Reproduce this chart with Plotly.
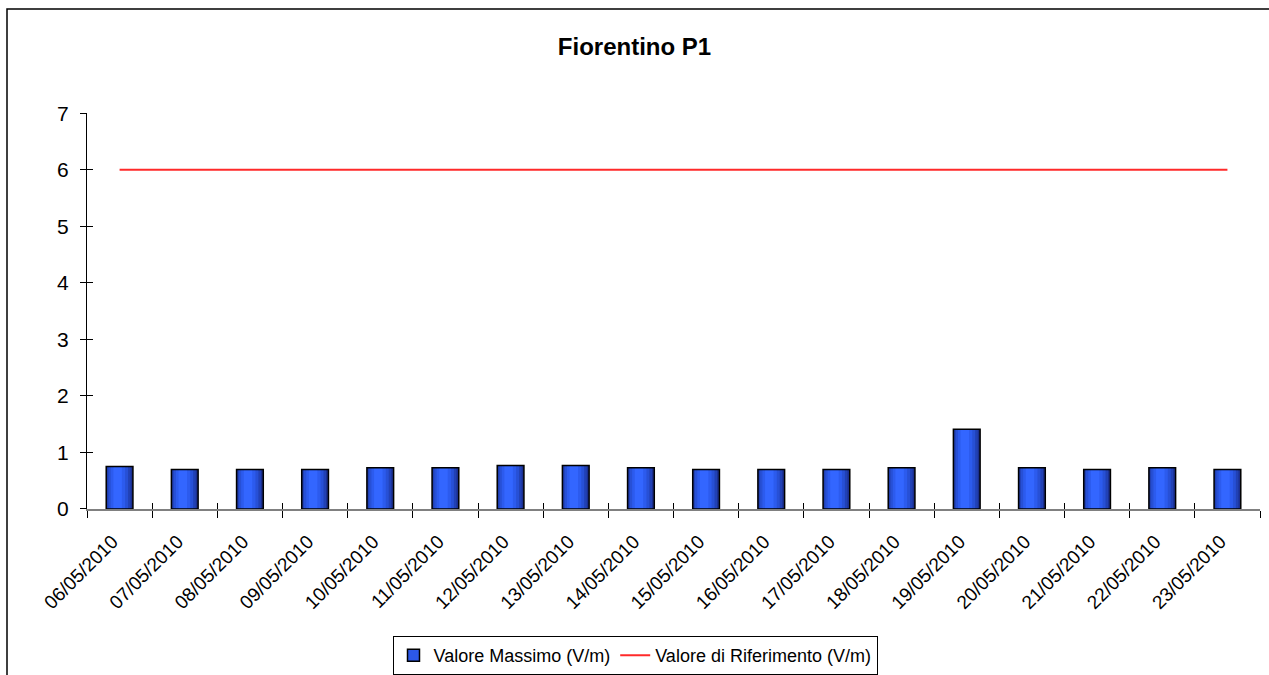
import plotly.graph_objects as go

dates = ["06/05/2010", "07/05/2010", "08/05/2010", "09/05/2010", "10/05/2010",
         "11/05/2010", "12/05/2010", "13/05/2010", "14/05/2010", "15/05/2010",
         "16/05/2010", "17/05/2010", "18/05/2010", "19/05/2010", "20/05/2010",
         "21/05/2010", "22/05/2010", "23/05/2010"]
valore_massimo = [0.75, 0.70, 0.70, 0.70, 0.73, 0.73, 0.77, 0.77, 0.73, 0.70,
                  0.70, 0.70, 0.73, 1.41, 0.73, 0.70, 0.73, 0.70]
valore_riferimento = [6] * len(dates)
y_ticks = [0, 1, 2, 3, 4, 5, 6, 7]

W, H = 1269, 675
FONT = "Liberation Sans, Arial, sans-serif"

x0p, x1p = 87, 1260
ytop, ybot = 114, 512

fig = go.Figure()

# legend-only entry for the bars
fig.add_trace(go.Bar(
    x=dates, y=[None] * len(dates), name="Valore Massimo (V/m)",
    marker=dict(color="#2C58E8", line=dict(color="black", width=1.5)),
    showlegend=True, hoverinfo="skip",
))

BW = 0.41
# gradient layers (dark edges -> bright centre)
layers = [
    (BW, -BW / 2, "#1B2F8F"),
    (0.36, -0.19, "#2141B5"),
    (0.30, -0.17, "#2750D6"),
    (0.22, -0.135, "#2C5BEE"),
    (0.13, -0.095, "#3366FF"),
]
for w, off, col in layers:
    fig.add_trace(go.Bar(
        x=dates, y=valore_massimo, width=w, offset=off,
        marker=dict(color=col, line=dict(width=0)),
        name="Valore Massimo (V/m)", showlegend=False,
    ))
fig.add_trace(go.Bar(
    x=dates, y=valore_massimo, width=BW, offset=-BW / 2,
    marker=dict(color="rgba(0,0,0,0)", line=dict(color="black", width=1.5)),
    showlegend=False, hoverinfo="skip",
))
fig.add_trace(go.Scatter(
    x=dates, y=valore_riferimento, mode="lines",
    line=dict(color="#FF2A2A", width=2),
    name="Valore di Riferimento (V/m)",
))

xdom = [x0p / W, x1p / W]
ydom = [(H - ybot) / H, (H - ytop) / H]

fig.update_layout(
    width=W, height=H,
    margin=dict(l=0, r=0, t=0, b=0),
    paper_bgcolor="white", plot_bgcolor="white",
    barmode="overlay",
    font=dict(family=FONT, color="black", size=16),
    title=dict(text="<b>Fiorentino P1</b>", x=0.5, xanchor="center",
               y=(H - 47) / H, yanchor="middle",
               font=dict(family=FONT, size=24, color="black")),
    xaxis=dict(
        domain=xdom, type="category", range=[-0.5, len(dates) - 0.5],
        showline=True, linecolor="#808080", linewidth=2,
        ticks="outside", ticklen=7, tickcolor="black", tickwidth=1,
        tickson="boundaries", tickangle=-45,
        ticklabelstandoff=12, ticklabelshift=-7,
        tickfont=dict(family=FONT, size=19, color="black"),
        showgrid=False, zeroline=False, automargin=False,
    ),
    yaxis=dict(
        domain=ydom, range=[0, 7], tickvals=y_ticks,
        showline=True, linecolor="black", linewidth=1,
        ticks="outside", ticklen=6, tickcolor="black", tickwidth=1,
        ticklabelstandoff=7,
        tickfont=dict(family=FONT, size=21, color="black"),
        showgrid=False, zeroline=False, automargin=False,
    ),
    xaxis2=dict(
        domain=xdom, type="category", range=[-0.5, len(dates) - 0.5],
        overlaying="x", anchor="y",
        ticks="inside", ticklen=6, tickcolor="black", tickson="boundaries",
        showticklabels=False, showgrid=False, zeroline=False, showline=False,
        categoryorder="array", categoryarray=dates,
    ),
    yaxis2=dict(
        domain=ydom, range=[0, 7], tickvals=y_ticks, overlaying="y", anchor="x",
        ticks="inside", ticklen=6, tickcolor="black",
        showticklabels=False, showgrid=False, zeroline=False, showline=False,
    ),
    legend=dict(
        orientation="h", x=(388 + 882) / 2 / W, xanchor="center",
        y=(H - 640) / H, yanchor="top",
        bordercolor="black", borderwidth=1, bgcolor="white",
        font=dict(family=FONT, size=18, color="black"),
        traceorder="normal",
    ),
    shapes=[dict(type="rect", xref="paper", yref="paper",
                 x0=7 / W, x1=1.05, y0=-0.05, y1=(H - 9) / H,
                 line=dict(color="black", width=1.5), fillcolor="rgba(0,0,0,0)")],
)

# invisible trace to activate the secondary tick axes
fig.add_trace(go.Scatter(x=dates, y=[None] * len(dates), xaxis="x2", yaxis="y2",
                         showlegend=False, hoverinfo="skip", mode="lines"))

fig.write_html("out.html",
               config={"displayModeBar": False},
               post_script="document.body.style.margin='0px';"
                           "document.body.style.overflow='hidden';")
